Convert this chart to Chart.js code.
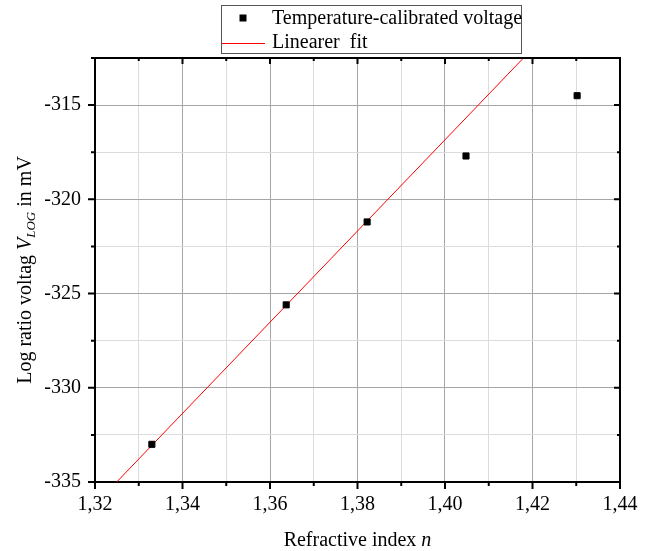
<!DOCTYPE html>
<html lang="en">
<head>
    <meta charset="UTF-8">
    <title>Log ratio voltage vs refractive index</title>
    <style>
        body {
            margin: 0;
            padding: 0;
            background: #fff;
        }

        #chart-box {
            width: 652px;
            height: 551px;
        }
    </style>
</head>
<body>
<div id="chart-box">
    <canvas id="fit-chart" width="652" height="551"></canvas>
</div>

<script src="https://cdn.jsdelivr.net/npm/chart.js@4"></script>
<script>
    // measured points
    var refIndex = [1.3330, 1.3637, 1.3822, 1.4048, 1.4302];
    var vLog = [-333.0, -325.6, -321.2, -317.7, -314.5];

    // linear fit, two end points (clipped to the plot)
    var fitIndex = [1.3200, 1.4200];
    var fitVLog = [-336.2, -312.0];

    var xTicks = [1.32, 1.34, 1.36, 1.38, 1.40, 1.42, 1.44];
    var yTicks = [-335, -330, -325, -320, -315];

    var seriesNames = ['Temperature-calibrated voltage', 'Linearer  fit'];

    var serif = "'Liberation Serif', 'Times New Roman', serif";

    function isMajorX(v) {
        return xTicks.some(function (t) { return Math.abs(t - v) < 1e-6; });
    }

    function isMajorY(v) {
        return yTicks.some(function (t) { return Math.abs(t - v) < 1e-6; });
    }

    function toPoints(xs, ys) {
        return xs.map(function (x, i) { return {x: x, y: ys[i]}; });
    }

    // draw a run of text pieces with their own fonts, centred on 0
    function drawParts(ctx, parts, cx, baseY) {
        var total = 0;
        parts.forEach(function (p) {
            ctx.font = p.font;
            p.w = ctx.measureText(p.text).width;
            total += p.w;
        });
        var x = cx - total / 2;
        parts.forEach(function (p) {
            ctx.font = p.font;
            ctx.fillText(p.text, x, baseY + (p.dy || 0));
            x += p.w;
        });
    }

    var framePlugin = {
        id: 'frame',
        afterDraw: function (chart) {
            var ctx = chart.ctx;
            var area = chart.chartArea;
            var xs = chart.scales.x;
            var ys = chart.scales.y;

            ctx.save();
            ctx.strokeStyle = '#000';
            ctx.lineWidth = 2;

            // top and right axis lines
            ctx.beginPath();
            ctx.moveTo(area.left - 1, area.top);
            ctx.lineTo(area.right, area.top);
            ctx.lineTo(area.right, area.bottom + 1);
            ctx.stroke();

            // tick marks: out on bottom/left, in on top/right
            ctx.beginPath();
            xs.ticks.forEach(function (t) {
                var px = xs.getPixelForValue(t.value);
                var len = isMajorX(t.value) ? 7 : 4;
                ctx.moveTo(px, area.bottom);
                ctx.lineTo(px, area.bottom + len);
                ctx.moveTo(px, area.top);
                ctx.lineTo(px, area.top + len - 1);
            });
            ys.ticks.forEach(function (t) {
                var py = ys.getPixelForValue(t.value);
                var len = isMajorY(t.value) ? 7 : 4;
                ctx.moveTo(area.left, py);
                ctx.lineTo(area.left - len, py);
                ctx.moveTo(area.right, py);
                ctx.lineTo(area.right - len + 1, py);
            });
            ctx.stroke();

            // axis titles
            ctx.fillStyle = '#000';
            ctx.textBaseline = 'alphabetic';
            ctx.textAlign = 'left';
            drawParts(ctx, [
                {text: 'Refractive index ', font: '20px ' + serif},
                {text: 'n', font: 'italic 20px ' + serif}
            ], (area.left + area.right) / 2, 546);

            ctx.save();
            ctx.translate(31, (area.top + area.bottom) / 2);
            ctx.rotate(-Math.PI / 2);
            drawParts(ctx, [
                {text: 'Log ratio voltag ', font: '20px ' + serif},
                {text: 'V', font: 'italic 20px ' + serif},
                {text: 'LOG', font: 'italic 13px ' + serif, dy: 4},
                {text: ' in mV', font: '20px ' + serif}
            ], 0, 0);
            ctx.restore();

            // legend box
            ctx.lineWidth = 1;
            ctx.strokeStyle = '#555';
            ctx.strokeRect(221.5, 5.5, 300, 48);

            ctx.fillStyle = '#000';
            ctx.fillRect(239.5, 14.5, 7, 7);

            ctx.strokeStyle = '#ff0000';
            ctx.beginPath();
            ctx.moveTo(222, 43.5);
            ctx.lineTo(265, 43.5);
            ctx.stroke();

            ctx.fillStyle = '#000';
            ctx.font = '20px ' + serif;
            ctx.textBaseline = 'middle';
            ctx.fillText(chart.data.datasets[0].label, 272, 19);
            ctx.fillText(chart.data.datasets[1].label, 272, 43);
            ctx.restore();
        }
    };

    var ctx = document.getElementById('fit-chart').getContext('2d');
    var chart = new Chart(ctx, {
        type: 'scatter',
        data: {
            datasets: [{
                label: seriesNames[0],
                data: toPoints(refIndex, vLog),
                pointStyle: 'rect',
                pointRadius: 4.3,
                pointBorderWidth: 1,
                backgroundColor: '#000',
                borderColor: '#000',
                order: 1
            }, {
                label: seriesNames[1],
                type: 'line',
                data: toPoints(fitIndex, fitVLog),
                borderColor: '#ff0000',
                borderWidth: 1,
                pointRadius: 0,
                fill: false,
                order: 2
            }]
        },
        options: {
            responsive: false,
            animation: false,
            layout: {
                padding: {top: 58, right: 32, bottom: 0, left: 0}
            },
            plugins: {
                legend: {display: false},
                tooltip: {enabled: false}
            },
            scales: {
                x: {
                    type: 'linear',
                    min: 1.32,
                    max: 1.44,
                    afterFit: function (scale) { scale.height = 69; },
                    border: {color: '#000', width: 2},
                    grid: {
                        drawTicks: false,
                        lineWidth: 1,
                        color: function (c) {
                            return isMajorX(c.tick.value) ? '#a6a6a6' : '#dcdcdc';
                        }
                    },
                    ticks: {
                        stepSize: 0.01,
                        autoSkip: false,
                        maxRotation: 0,
                        padding: 11,
                        color: '#000',
                        font: {family: serif, size: 20},
                        callback: function (v) {
                            return isMajorX(v) ? v.toFixed(2).replace('.', ',') : '';
                        }
                    }
                },
                y: {
                    min: -335,
                    max: -312.5,
                    afterFit: function (scale) { scale.width = 95; },
                    border: {color: '#000', width: 2},
                    grid: {
                        drawTicks: false,
                        lineWidth: 1,
                        color: function (c) {
                            return isMajorY(c.tick.value) ? '#a6a6a6' : '#dcdcdc';
                        }
                    },
                    ticks: {
                        stepSize: 2.5,
                        autoSkip: false,
                        padding: 14,
                        color: '#000',
                        font: {family: serif, size: 20},
                        callback: function (v) {
                            return isMajorY(v) ? String(v) : '';
                        }
                    }
                }
            }
        },
        plugins: [framePlugin]
    });
</script>
</body>
</html>
